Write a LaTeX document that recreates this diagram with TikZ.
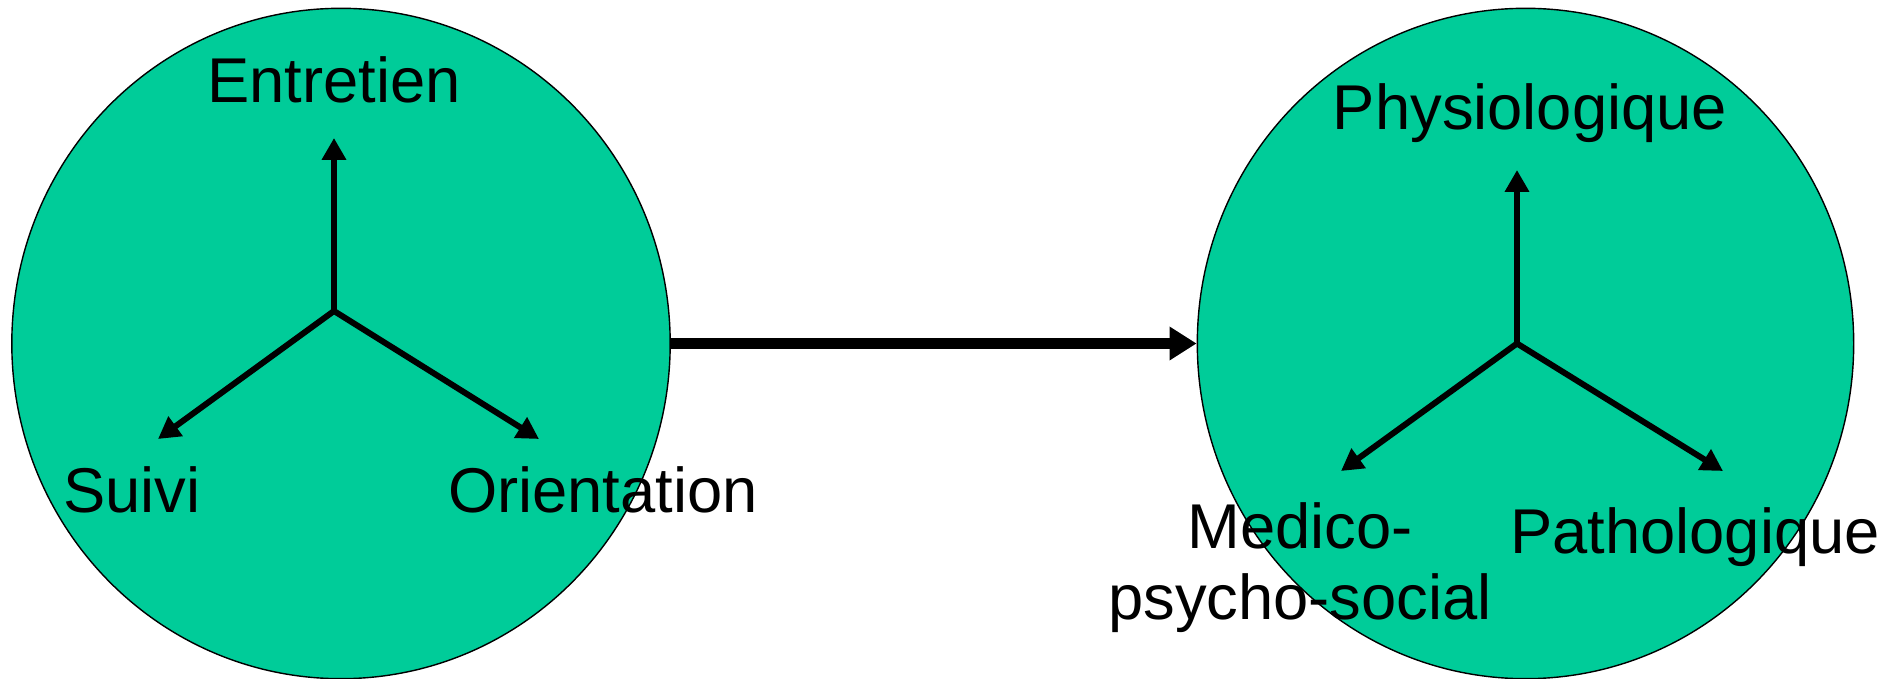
\documentclass[tikz,border=0pt]{standalone}
\usepackage{fontspec}
\setmainfont{Liberation Sans}
\usetikzlibrary{arrows.meta,shapes.geometric}
\definecolor{bubblegreen}{RGB}{0,204,153}
\begin{document}
\begin{tikzpicture}[x=0.01cm,y=-0.01cm,
    bubble/.style={draw,ellipse,fill=bubblegreen,line width=0.4pt,inner sep=0pt,minimum height=6.70cm},
    lbl/.style={font=\fontsize{18}{20}\selectfont,inner sep=0pt,anchor=base},
    spoke/.style={line width=1.7pt,-{Triangle[length=6.2pt,width=6.6pt]}},
    flow/.style={line width=3.4pt,-{Triangle[length=7.7pt,width=9.1pt]}}]
  \useasboundingbox (0,0) rectangle (1903,679);
  % left bubble
  \node[bubble,minimum width=6.58cm] (L) at (341,343.5) {};
  \coordinate (Lhub) at (334,311);
  \coordinate (Lup) at (334,138);
  \coordinate (Lleft) at (158,439);
  \coordinate (Lright) at (539,439);
  \draw[spoke] (Lhub) -- (Lup);
  \draw[spoke] (Lhub) -- (Lleft);
  \draw[spoke] (Lhub) -- (Lright);
  \node[lbl] (entretien) at (334,103) {Entretien};
  \node[lbl] (suivi) at (132,512) {Suivi};
  \node[lbl] (orientation) at (603,512) {Orientation};
  % right bubble
  \node[bubble,minimum width=6.56cm] (R) at (1525.5,343.5) {};
  \coordinate (Rhub) at (1517,343.5);
  \coordinate (Rup) at (1517,170);
  \coordinate (Rleft) at (1341,471);
  \coordinate (Rright) at (1723,471);
  \draw[spoke] (Rhub) -- (Rup);
  \draw[spoke] (Rhub) -- (Rleft);
  \draw[spoke] (Rhub) -- (Rright);
  \node[lbl] (physio) at (1530,130) {Physiologique};
  \node[lbl,align=center] (medico) at (1300,619) {Medico-\\psycho-social};
  \node[lbl] (patho) at (1695,553) {Pathologique};
  % link
  \draw[flow] (L.east) -- (R.west);
\end{tikzpicture}
\end{document}
